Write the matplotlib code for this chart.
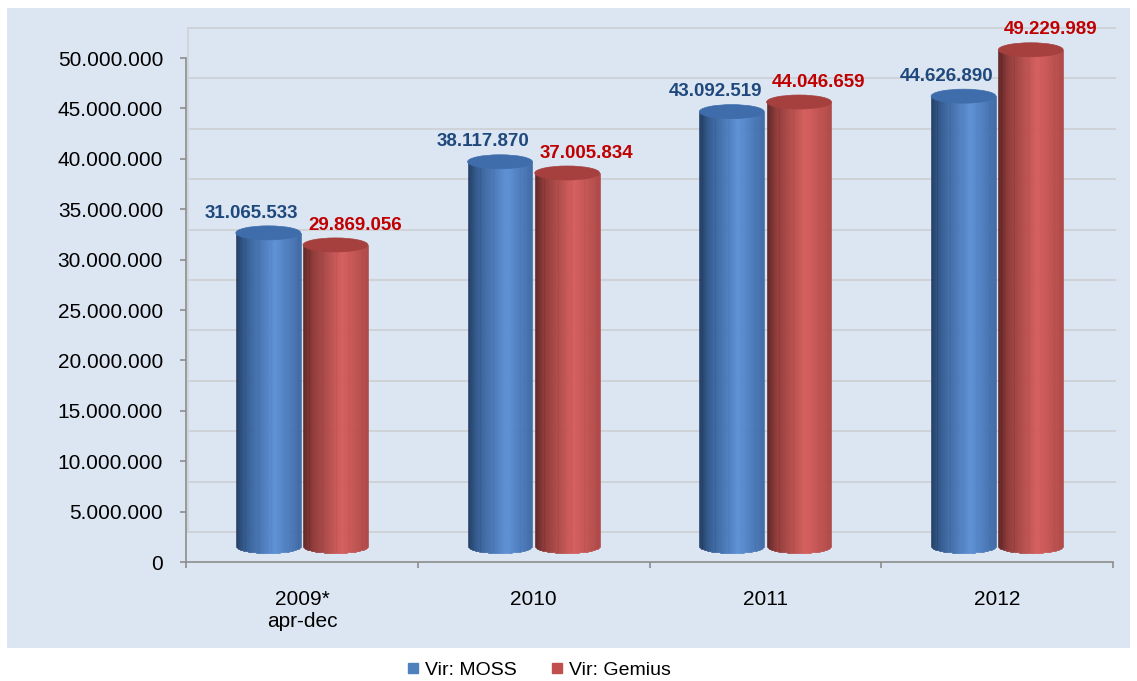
import numpy as np
import matplotlib
matplotlib.use('Agg')
import matplotlib.pyplot as plt
import matplotlib.transforms as mtransforms
from matplotlib.patches import Rectangle, Ellipse
from matplotlib.collections import PolyCollection
from matplotlib.colors import LinearSegmentedColormap
from matplotlib.lines import Line2D

## data
categories = ['2009*\napr-dec', '2010', '2011', '2012']
moss = [31065533, 38117870, 43092519, 44626890]
gemius = [29869056, 37005834, 44046659, 49229989]
series_names = ['Vir: MOSS', 'Vir: Gemius']
yticks = np.arange(0, 50000001, 5000000)

plt.rcParams['font.family'] = ['Liberation Sans', 'DejaVu Sans']


def fmt(v):
    return '{:,}'.format(int(v)).replace(',', '.')


W, H = 1137, 681
fig = plt.figure(figsize=(W / 100, H / 100), dpi=100)
fig.patch.set_facecolor('white')
panel = Rectangle((7 / W, 1 - 648 / H), (1130 - 7) / W, (648 - 8) / H,
                  transform=fig.transFigure, facecolor='#dce6f2', edgecolor='none', zorder=-10)
fig.patches.append(panel)

ax = fig.add_axes([186 / W, 1 - 562 / H, (1113 - 186) / W, (562 - 58) / H])
ax.set_zorder(1)
ax.patch.set_visible(False)
ax.set_xlim(-0.5, 3.5)
ax.set_ylim(0, 50e6)

px_per_unit = (562 - 58) / 50e6
eh = 7 / px_per_unit          # half height of cylinder ellipses (data units)
bw = 0.28                     # bar width
offs = [-0.145, 0.145]

# back wall, shifted up (fake 3d depth)
wall_tr = ax.transData + mtransforms.ScaledTranslation(0, 30 / 100, fig.dpi_scale_trans)
for v in yticks:
    ax.plot([-0.49, 3.51], [v, v], transform=wall_tr, color='#cfd3d8', lw=1.4,
            clip_on=False, zorder=1)
ax.plot([-0.49, -0.49], [0, 50e6], transform=wall_tr, color='#cfd3d8', lw=1.2,
        clip_on=False, zorder=1)

bar_tr = ax.transData + mtransforms.ScaledTranslation(0, 16 / 100, fig.dpi_scale_trans)

cmaps = [
    LinearSegmentedColormap.from_list('b', [(0, '#1d375e'), (0.15, '#30598f'),
                                            (0.6, '#5a8fd6'), (1, '#3b67a3')]),
    LinearSegmentedColormap.from_list('r', [(0, '#5a1f1e'), (0.15, '#8e3634'),
                                            (0.6, '#d65b59'), (1, '#ad4442')]),
]
tops = ['#3f6dab', '#a5403e']
label_cols = ['#1f497d', '#c00000']
label_dx = [-12, 14]

nstrip = 60
tedge = np.linspace(-1, 1, nstrip + 1)
for s, vals in enumerate([moss, gemius]):
    for i, v in enumerate(vals):
        c = i + offs[s]
        polys = []
        cols = []
        for k in range(nstrip):
            t0, t1 = tedge[k], tedge[k + 1]
            tm = (t0 + t1) / 2
            x0 = c + t0 * bw / 2
            x1 = c + t1 * bw / 2
            yb = -eh * np.sqrt(max(0, 1 - tm ** 2))
            polys.append([(x0, yb), (x1, yb), (x1, v), (x0, v)])
            cols.append(cmaps[s]((tm + 1) / 2))
        pc = PolyCollection(polys, facecolors=cols, edgecolors=cols, linewidths=0.4,
                            transform=bar_tr, zorder=3, clip_on=False)
        ax.add_collection(pc)
        top = Ellipse((c, v), bw, 2 * eh, transform=bar_tr, facecolor=tops[s],
                      edgecolor=tops[s], lw=0.5, zorder=4, clip_on=False)
        ax.add_patch(top)
        ax.annotate(fmt(v), xy=(c, v), xycoords=bar_tr, xytext=(label_dx[s], 11),
                    textcoords='offset points', ha='center', va='baseline',
                    fontsize=13.5, fontweight='bold', color=label_cols[s],
                    zorder=5, annotation_clip=False)

# axes
for sp in ['top', 'right']:
    ax.spines[sp].set_visible(False)
ax.spines['left'].set_color('#8c8c8c')
ax.spines['bottom'].set_color('#8c8c8c')
ax.spines['left'].set_linewidth(1.2)
ax.spines['bottom'].set_linewidth(1.2)

ax.set_yticks(yticks)
ax.set_yticklabels([fmt(v) for v in yticks], fontsize=15)
ax.tick_params(axis='y', length=4.5, width=1.2, color='#8c8c8c', pad=12)

ax.set_xticks(range(len(categories)))
ax.set_xticklabels(categories, fontsize=15)
ax.set_xticks(np.arange(-0.5, len(categories), 1.0), minor=True)
ax.tick_params(axis='x', which='major', length=0, pad=20)
ax.tick_params(axis='x', which='minor', length=4.5, width=1.2, color='#8c8c8c')

handles = [Line2D([], [], marker='s', ls='none', color='#4f81bd', markersize=7),
           Line2D([], [], marker='s', ls='none', color='#c0504d', markersize=7)]
fig.legend(handles, series_names, loc='center', bbox_to_anchor=(537 / W, 1 - 670 / H),
           ncol=2, frameon=False, fontsize=14, handletextpad=0.1, columnspacing=1.6,
           handlelength=1.0)

plt.savefig('out.png', dpi=100)
